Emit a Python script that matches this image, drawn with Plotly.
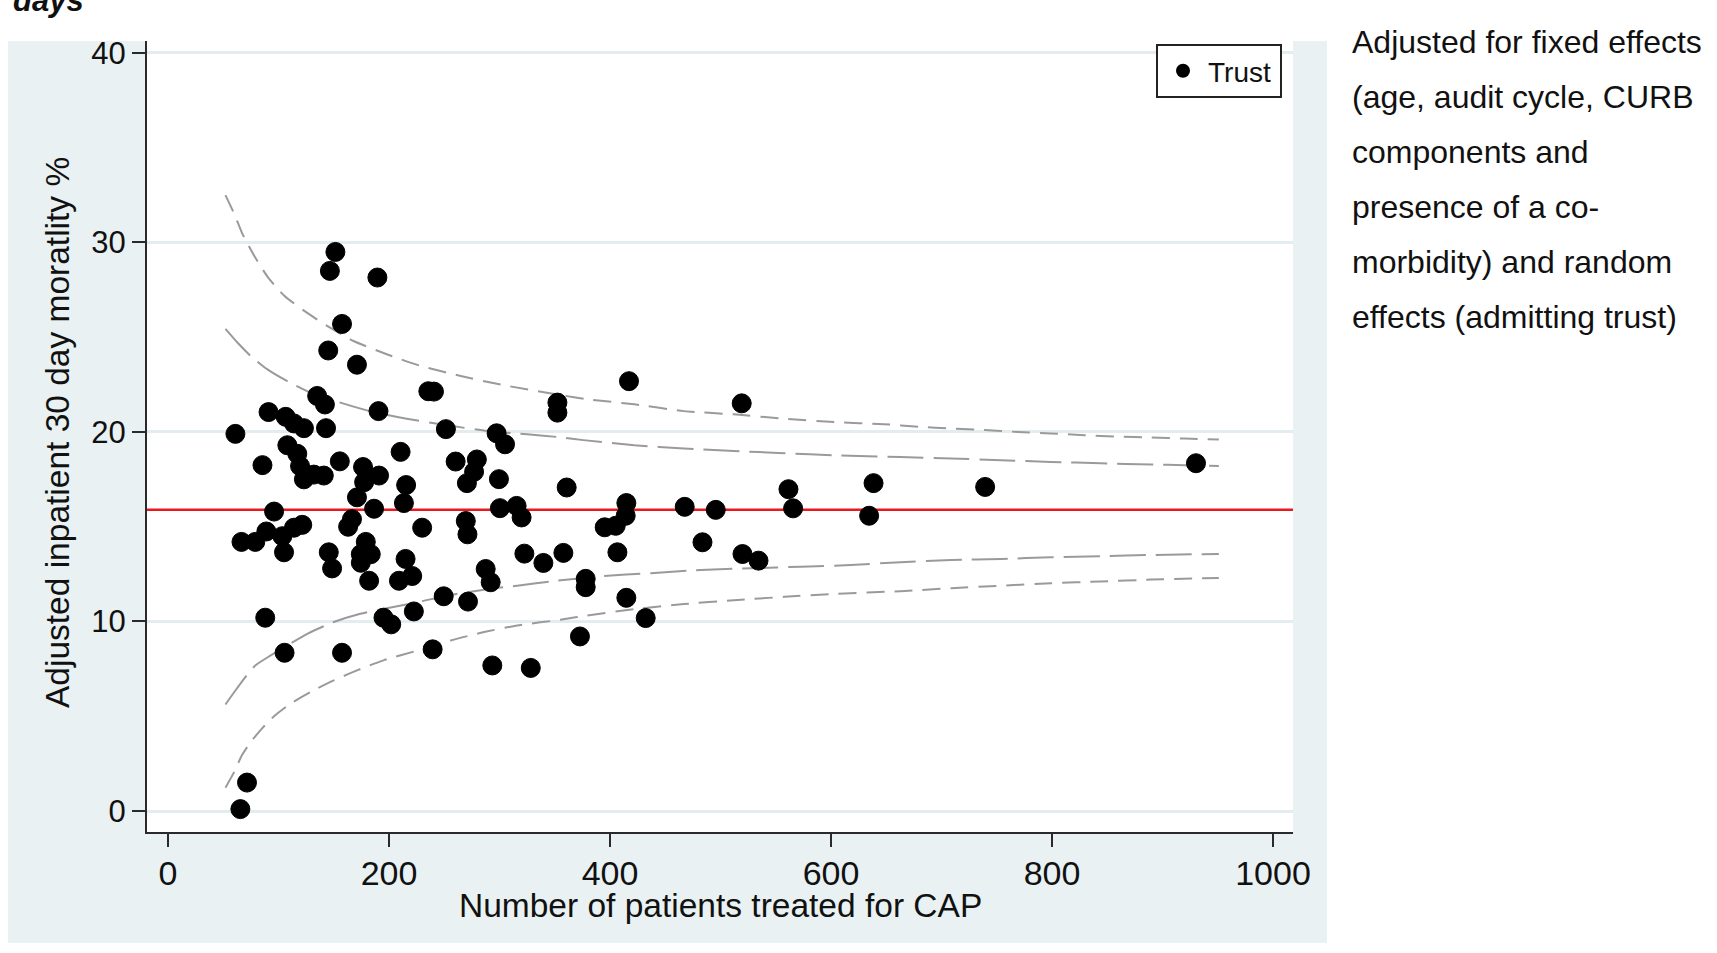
import plotly.graph_objects as go

# ---- Trust-level results: patients treated (x) vs adjusted 30-day mortality % (y)
trust_patients = [
    61, 66.5, 79, 89, 103.5, 105, 114, 121.5, 96, 85.5,
    91, 106.5, 114, 123, 108, 117, 119.5, 123, 132, 141,
    143, 135, 142, 145, 146.5, 151.5, 157.5, 155.5, 145.5, 148.5,
    88, 105.5, 157.5, 71.5, 65.5,
    171, 163, 166.5, 176.5, 191, 177.5, 186.5, 179, 174.5, 183.5,
    174.5, 182, 171, 189.5, 190.5, 210.5, 215.5, 213.5, 230, 215,
    221, 209, 249.5, 222.5, 195, 202, 239.5, 235.6, 240.7, 251.5,
    260.3, 279.5, 277, 270.5, 269.5, 271, 287.5, 292, 271.5, 293.5,
    328.3, 297.4, 305, 299.5, 300.4, 315.5, 320, 322.5, 339.7, 352.4,
    352.4, 360.8, 357.8, 378, 378, 372.8, 417.2, 414.8, 414.2, 405.2,
    395.2, 406.7, 414.8, 432.3, 467.6, 495.7, 483.7, 519.2, 519.9, 534.4,
    561.5, 565.7, 638.5, 634.5, 739.5, 930.3,
]
trust_mortality = [
    19.9, 14.2, 14.2, 14.75, 14.5, 13.65, 14.95, 15.1, 15.8, 18.25,
    21.05, 20.8, 20.45, 20.2, 19.3, 18.85, 18.2, 17.5, 17.75, 17.7,
    20.2, 21.9, 21.45, 24.3, 28.5, 29.5, 25.7, 18.45, 13.65, 12.8,
    10.2, 8.35, 8.35, 1.5, 0.1,
    16.55, 15.0, 15.4, 18.15, 17.7, 17.35, 15.95, 14.2, 13.55, 13.55,
    13.1, 12.15, 23.55, 28.15, 21.1, 18.95, 17.2, 16.25, 14.95, 13.3,
    12.4, 12.15, 11.33, 10.53, 10.2, 9.85, 8.53, 22.15, 22.13, 20.15,
    18.44, 18.55, 17.9, 17.3, 15.3, 14.6, 12.77, 12.07, 11.05, 7.68,
    7.55, 19.93, 19.35, 17.51, 15.98, 16.1, 15.49, 13.58, 13.09, 21.55,
    21.02, 17.07, 13.62, 12.25, 11.81, 9.21, 22.68, 16.25, 15.58, 15.05,
    14.97, 13.65, 11.25, 10.18, 16.05, 15.89, 14.18, 21.51, 13.56, 13.21,
    16.98, 15.97, 17.3, 15.58, 17.1, 18.35,
]

# National average mortality (red reference line)
national_mean = 15.9

# ---- Funnel control limits
upper_outer_x = [52, 60, 67, 78, 90, 105, 123, 144, 168, 198, 228, 265, 301, 355, 380,
                 422, 467, 512, 558, 603, 648, 679, 709, 739, 769, 799, 829, 859, 890, 920, 951]
upper_outer_y = [32.5, 31.5, 30.5, 29.3, 28.2, 27.2, 26.4, 25.6, 24.8, 24.1, 23.5, 22.95, 22.5, 21.95, 21.72,
                 21.46, 21.1, 20.93, 20.7, 20.52, 20.41, 20.28, 20.18, 20.11, 20.0, 19.92, 19.83, 19.76, 19.71, 19.65, 19.6]

upper_inner_x = [52, 63, 75, 90, 108, 129, 156, 186, 216, 253, 289, 325, 355, 376,
                 422, 467, 512, 558, 603, 663, 709, 754, 799, 844, 890, 920, 951]
upper_inner_y = [25.44, 24.71, 24.0, 23.3, 22.68, 22.07, 21.55, 21.05, 20.7, 20.35, 20.05, 19.88, 19.72, 19.57,
                 19.3, 19.13, 19.0, 18.88, 18.77, 18.68, 18.6, 18.51, 18.42, 18.35, 18.28, 18.25, 18.21]

lower_inner_x = [52, 60, 70, 79, 93, 108, 126, 150, 174, 198, 226, 256, 286, 316, 346,
                 392, 437, 482, 528, 573, 618, 663, 709, 754, 799, 844, 890, 951]
lower_inner_y = [5.62, 6.28, 7.07, 7.68, 8.21, 8.74, 9.35, 9.97, 10.41, 10.7, 11.02, 11.4, 11.68, 11.89, 12.11,
                 12.39, 12.55, 12.72, 12.81, 12.89, 12.98, 13.13, 13.25, 13.3, 13.39, 13.44, 13.51, 13.56]

lower_outer_x = [52, 60, 67, 75, 85, 97, 111, 129, 150, 171, 195, 226, 256, 286, 316, 355,
                 377, 422, 467, 512, 558, 603, 663, 709, 754, 799, 844, 890, 951]
lower_outer_y = [1.23, 2.07, 2.95, 3.65, 4.35, 5.05, 5.67, 6.28, 6.89, 7.42, 7.95, 8.47, 9.0, 9.44, 9.79, 10.09,
                 10.3, 10.65, 10.92, 11.12, 11.3, 11.46, 11.6, 11.76, 11.89, 12.02, 12.11, 12.21, 12.3]

x_ticks = [0, 200, 400, 600, 800, 1000]
y_ticks = [0, 10, 20, 30, 40]

x_title = "Number of patients treated for CAP"
y_title = "Adjusted inpatient 30 day moratlity %"
note_lines = [
    "Adjusted for fixed effects",
    "(age, audit cycle, CURB",
    "components and",
    "presence of a co-",
    "morbidity) and random",
    "effects (admitting trust)",
]

# ---- Page geometry (pixels)
W, H = 1717, 953
PL, PR, PT, PB = 147, 1293, 41, 832  # plot area edges
FONT = "Liberation Sans, Arial, sans-serif"
REGION_BG = "#e9f1f3"
GRID = "#e3edef"
AXIS = "#2a2a2a"
CURVE = "#9a9a9a"
TEXT = "#111111"


def px_x(px):
    return (px - PL) / (PR - PL)


def px_y(py):
    return (PB - py) / (PB - PT)


fig = go.Figure()

curve_specs = [
    (upper_outer_x, upper_outer_y, "18px,10px"),
    (upper_inner_x, upper_inner_y, "36px,10px"),
    (lower_inner_x, lower_inner_y, "36px,10px"),
    (lower_outer_x, lower_outer_y, "18px,10px"),
]
for cx, cy, dash in curve_specs:
    fig.add_trace(go.Scatter(
        x=cx, y=cy, mode="lines", showlegend=False, hoverinfo="skip",
        line=dict(color=CURVE, width=2, dash=dash, shape="spline", smoothing=0.6),
    ))

fig.add_trace(go.Scatter(
    x=trust_patients, y=trust_mortality, mode="markers", name="Trust",
    marker=dict(size=19, color="black", line=dict(color="black", width=1)),
))

shapes = [
    # graph region background
    dict(type="rect", xref="paper", yref="paper", layer="below",
         x0=px_x(8), x1=px_x(1327), y0=px_y(943), y1=px_y(41),
         fillcolor=REGION_BG, line=dict(width=0)),
    # plot region
    dict(type="rect", xref="paper", yref="paper", layer="below",
         x0=0, x1=1, y0=0, y1=1, fillcolor="white", line=dict(width=0)),
    # national mean
    dict(type="line", xref="paper", yref="y", layer="between",
         x0=0, x1=1, y0=national_mean, y1=national_mean,
         line=dict(color="#e8191f", width=2.5)),
]

annotations = [
    dict(text=x_title, xref="paper", yref="paper", x=0.5, y=px_y(906),
         xanchor="center", yanchor="middle", showarrow=False,
         font=dict(family=FONT, size=33.5, color=TEXT)),
    dict(text=y_title, xref="paper", yref="paper", x=px_x(57), y=px_y(433),
         xanchor="center", yanchor="middle", showarrow=False, textangle=-90,
         font=dict(family=FONT, size=33.5, color=TEXT)),
    dict(text="<b><i>days</i></b>", xref="paper", yref="paper", x=px_x(11), y=px_y(0),
         xanchor="left", yanchor="middle", showarrow=False,
         font=dict(family=FONT, size=31, color=TEXT)),
]
for i, line in enumerate(note_lines):
    annotations.append(dict(
        text=line, xref="paper", yref="paper", x=px_x(1350), y=px_y(42 + 55 * i),
        xanchor="left", yanchor="middle", showarrow=False,
        font=dict(family=FONT, size=32, color=TEXT),
    ))

fig.update_layout(
    width=W, height=H,
    margin=dict(l=PL, r=W - PR, t=PT, b=H - PB, pad=0),
    paper_bgcolor="white", plot_bgcolor="white",
    font=dict(family=FONT, color=TEXT),
    shapes=shapes, annotations=annotations,
    showlegend=True,
    legend=dict(
        x=px_x(1282), y=px_y(44), xanchor="right", yanchor="top",
        orientation="h", entrywidth=67, entrywidthmode="pixels",
        bgcolor="white", bordercolor="#222222", borderwidth=2,
        font=dict(family=FONT, size=28, color=TEXT),
        itemsizing="constant", itemwidth=40,
    ),
    xaxis=dict(
        range=[-19.0, 1018.1], tickvals=x_ticks, ticktext=[str(v) for v in x_ticks],
        showgrid=False, zeroline=False, showline=True, linecolor=AXIS, linewidth=2,
        ticks="outside", ticklen=13, tickwidth=2, tickcolor=AXIS, ticklabelstandoff=-3,
        tickfont=dict(family=FONT, size=34, color=TEXT),
    ),
    yaxis=dict(
        range=[-1.108, 40.63], tickvals=y_ticks, ticktext=[str(v) for v in y_ticks],
        showgrid=True, gridcolor=GRID, gridwidth=2.5, zeroline=False,
        showline=True, linecolor=AXIS, linewidth=2,
        ticks="outside", ticklen=13, tickwidth=2, tickcolor=AXIS,
        tickfont=dict(family=FONT, size=31, color=TEXT),
    ),
)

fig.write_html("out.html")
